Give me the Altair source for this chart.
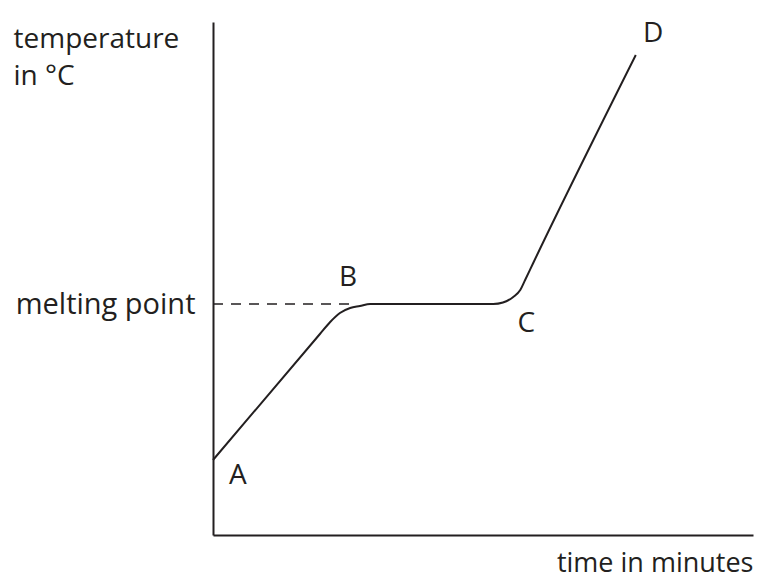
import altair as alt
import pandas as pd

# heating curve (time in minutes, temperature in arbitrary units)
time = [0.0, 1.98, 2.17, 2.35, 2.54, 2.72, 2.91, 3.09, 5.19, 5.37, 5.56, 5.69, 5.78, 5.93, 7.83]
temperature = [7.5, 20.1, 21.3, 22.2, 22.7, 22.9, 23.1, 23.1, 23.1, 23.25, 23.8, 24.5, 25.5, 27.2, 48.0]

melting_point = 23.1
dash_end = 2.63

point_names = ["A", "B", "C", "D"]
point_time = [0.46, 2.50, 5.80, 8.15]
point_temp = [5.9, 25.7, 21.1, 50.1]

x_max = 10.0
y_max = 51.3

INK = "#231f20"
FONT = "Open Sans"
FS = 28

curve_df = pd.DataFrame({"time": time, "temperature": temperature})
dash_df = pd.DataFrame({"time": [0.0, dash_end], "temperature": [melting_point, melting_point]})
lab_df = pd.DataFrame({"name": point_names, "time": point_time, "temperature": point_temp})

xs = alt.Scale(domain=[0, x_max], nice=False, zero=False)
ys = alt.Scale(domain=[0, y_max], nice=False, zero=False)

x_axis = alt.Axis(
    values=[], grid=False, ticks=False, labels=False,
    domainColor=INK, domainWidth=2,
    title="time in minutes", titleFont=FONT, titleFontSize=27, titleFontWeight="normal",
    titleColor=INK, titleAlign="right", titleAnchor="end", titleBaseline="alphabetic",
    titleX=540, titleY=36,
)
y_axis = alt.Axis(
    values=[melting_point], labelExpr="'melting point'", grid=False, ticks=False,
    labelFont=FONT, labelFontSize=29, labelColor=INK, labelPadding=18,
    labelBaseline="middle",
    domainColor=INK, domainWidth=2,
    title=["temperature", "in °C"], titleFont=FONT, titleFontSize=FS, titleFontWeight="normal",
    titleColor=INK, titleAngle=0, titleAlign="left", titleBaseline="alphabetic",
    titleX=-200, titleY=25, titleLineHeight=37,
)

curve = alt.Chart(curve_df).mark_line(color=INK, strokeWidth=2, interpolate="monotone").encode(
    x=alt.X("time:Q", scale=xs, axis=x_axis),
    y=alt.Y("temperature:Q", scale=ys, axis=y_axis),
)

dash = alt.Chart(dash_df).mark_line(color=INK, strokeWidth=1.5, strokeDash=[10, 8]).encode(
    x=alt.X("time:Q", scale=xs),
    y=alt.Y("temperature:Q", scale=ys),
)

letters = alt.Chart(lab_df).mark_text(
    font=FONT, fontSize=FS, color=INK, baseline="middle", align="center"
).encode(
    x=alt.X("time:Q", scale=xs),
    y=alt.Y("temperature:Q", scale=ys),
    text="name:N",
)

chart = alt.layer(curve, dash, letters).properties(
    width=540, height=513,
    autosize=alt.AutoSizeParams(type="none"),
    padding={"left": 205, "top": 14, "right": 4, "bottom": 43},
).configure(background="white").configure_view(stroke=None, strokeWidth=0)

chart.save("out.html", embed_options={"renderer": "svg", "actions": False})
